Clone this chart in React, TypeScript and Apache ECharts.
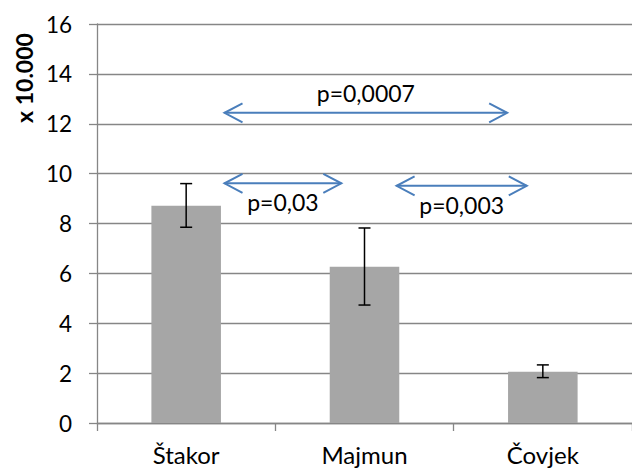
import React, { useEffect, useRef } from "react";
import * as echarts from "echarts";

const categories = ["Štakor", "Majmun", "Čovjek"];
const means = [8.71, 6.27, 2.06];
const errLow = [7.85, 4.73, 1.82];
const errHigh = [9.6, 7.82, 2.33];
const yMin = 0;
const yMax = 16;
const yStep = 2;
// comparisons: positions in category units (0 = centre of first category)
const compareFrom = [0.215, 0.215, 1.18];
const compareTo = [1.8, 0.87, 1.91];
const compareLevel = [12.44, 9.61, 9.51];
const pLabels = ["p=0,0007", "p=0,03", "p=0,003"];
const labelAbove = [true, false, false];
const yTitle = "x 10.000";

const FONT = "Lato";

export default function App() {
  const ref = useRef<HTMLDivElement>(null);
  useEffect(() => {
    if (!ref.current) return;
    const chart = echarts.init(ref.current, null, { renderer: "svg" });
    const option: any = {
      animation: false,
      grid: { left: 97, right: 0, top: 24, bottom: 45, containLabel: false },
      xAxis: {
        type: "category",
        data: categories,
        boundaryGap: true,
        axisLine: { lineStyle: { color: "#868686", width: 1.3 } },
        axisTick: { show: true, alignWithLabel: false, length: 8, lineStyle: { color: "#868686", width: 1.3 } },
        axisLabel: { color: "#000", fontFamily: FONT, fontSize: 24, margin: 18, lineHeight: 26 },
        splitLine: { show: false },
      },
      yAxis: {
        type: "value",
        min: yMin,
        max: yMax,
        interval: yStep,
        axisLine: { show: true, lineStyle: { color: "#868686", width: 1.3 } },
        axisTick: { show: true, length: 8, lineStyle: { color: "#868686", width: 1.3 } },
        axisLabel: { color: "#000", fontFamily: FONT, fontSize: 22.5, margin: 25 },
        splitLine: { show: true, lineStyle: { color: "#868686", width: 1.3 } },
      },
      graphic: [
        {
          type: "text",
          x: 24,
          y: 78,
          rotation: Math.PI / 2,
          style: {
            text: yTitle,
            fill: "#000",
            fontFamily: FONT,
            fontWeight: "bold",
            fontSize: 23,
            align: "center",
            verticalAlign: "middle",
          },
        },
      ],
      series: [
        {
          type: "bar",
          data: means,
          barWidth: "39%",
          itemStyle: { color: "#a6a6a6" },
        },
        {
          type: "custom",
          encode: { x: 0, y: [1, 2] },
          data: categories.map((_, i) => [i, errLow[i], errHigh[i]]),
          renderItem: (params: any, api: any) => {
            const x = api.value(0);
            const lo = api.coord([x, api.value(1)]);
            const hi = api.coord([x, api.value(2)]);
            const cap = 6;
            const style = { stroke: "#000", lineWidth: 1.5 };
            return {
              type: "group",
              children: [
                { type: "line", shape: { x1: lo[0], y1: lo[1], x2: hi[0], y2: hi[1] }, style },
                { type: "line", shape: { x1: hi[0] - cap, y1: hi[1], x2: hi[0] + cap, y2: hi[1] }, style },
                { type: "line", shape: { x1: lo[0] - cap, y1: lo[1], x2: lo[0] + cap, y2: lo[1] }, style },
              ],
            };
          },
          z: 5,
        },
        {
          type: "custom",
          encode: { x: 0, y: 3 },
          data: pLabels.map((_, i) => [0, compareFrom[i], compareTo[i], compareLevel[i]]),
          renderItem: (params: any, api: any) => {
            const i = params.dataIndex;
            const base = api.coord([0, api.value(3)]);
            const band = api.size([1, 0])[0];
            const x1 = base[0] + api.value(1) * band;
            const x2 = base[0] + api.value(2) * band;
            const y = base[1];
            const hw = 18;
            const hh = 9.5;
            const style = { stroke: "#4a7ebb", lineWidth: 2, fill: "none" };
            return {
              type: "group",
              children: [
                { type: "line", shape: { x1, y1: y, x2, y2: y }, style },
                { type: "polyline", shape: { points: [[x1 + hw, y - hh], [x1, y], [x1 + hw, y + hh]] }, style },
                { type: "polyline", shape: { points: [[x2 - hw, y - hh], [x2, y], [x2 - hw, y + hh]] }, style },
                {
                  type: "text",
                  x: (x1 + x2) / 2,
                  y: y + (labelAbove[i] ? -20 : 19),
                  style: {
                    text: pLabels[i],
                    fill: "#000",
                    fontFamily: FONT,
                    fontSize: 23,
                    align: "center",
                    verticalAlign: "middle",
                  },
                },
              ],
            };
          },
          z: 6,
        },
      ],
    };
    chart.setOption(option);
    return () => chart.dispose();
  }, []);
  return (
    <div
      ref={ref}
      style={{ position: "fixed", left: 0, top: 0, width: 632, height: 468, background: "#fff" }}
    />
  );
}
